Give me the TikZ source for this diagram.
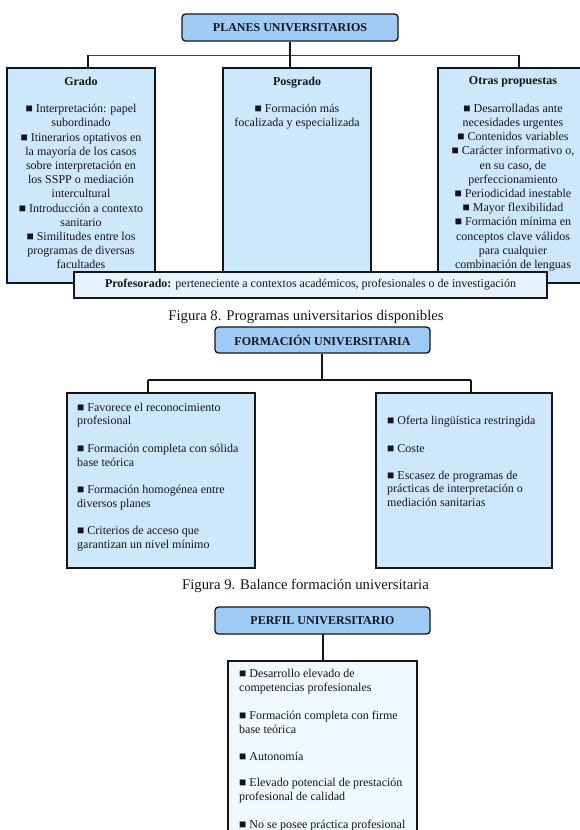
\documentclass[tikz,border=0pt]{standalone}
\usepackage{fontspec}
\setmainfont{Liberation Serif}
\definecolor{titlefill}{RGB}{158,204,245}
\definecolor{boxfill}{RGB}{205,232,251}
\definecolor{proffill}{RGB}{230,243,252}
\definecolor{perfill}{RGB}{241,248,254}
\definecolor{ink}{RGB}{20,20,30}
\newcommand{\sq}{■}
\begin{document}
\begin{tikzpicture}[x=1pt,y=-1pt,
  titlebox/.style={draw=ink, line width=1.3pt, rounded corners=3.5pt, fill=titlefill,
    font=\fontsize{12}{13}\selectfont\bfseries, text=ink, inner sep=0pt},
  cbox/.style={draw=ink, line width=1.8pt, fill=boxfill, inner sep=0pt},
  link/.style={line width=1.5pt, draw=ink},
  hlink/.style={line width=1pt, draw=black!75},
  body/.style={font=\fontsize{12}{14.2}\selectfont, text=ink, inner sep=0pt, align=center},
  lbody/.style={font=\fontsize{12}{13.7}\selectfont, text=ink, inner sep=0pt, align=left},
  figcap/.style={font=\fontsize{14.7}{16}\selectfont, text=ink, inner sep=0pt}
]
\useasboundingbox (0,0) rectangle (580,830);
\clip (0,0) rectangle (580,830);
\fill[white] (0,0) rectangle (580,830);

% ---------- Figura 8 ----------
\node[titlebox, minimum width=216pt, minimum height=27pt] (planes) at (290,27.5) {PLANES UNIVERSITARIOS};
\node[cbox, minimum width=148pt, minimum height=215pt] (grado) at (81,175.5) {};
\node[cbox, minimum width=148pt, minimum height=217pt] (posgrado) at (297,176.5) {};
\node[cbox, minimum width=152pt, minimum height=215pt] (otras) at (514,175.5) {};

\coordinate (hubL) at (88,55);
\coordinate (hubR) at (519,55);
\draw[hlink] (hubL) -- (hubR);
\draw[link] (planes.south) -- (planes.south |- posgrado.north);
\draw[link] (hubL) -- (hubL |- grado.north);
\draw[link] (hubR) -- (hubR |- otras.north);

\node[body, anchor=north] (gradotxt) at (81,76.5) {\textbf{Grado}\\[13.5pt]
\sq\ Interpretación: papel\\ subordinado\\
\sq\ Itinerarios optativos en\\ la mayoría de los casos\\ sobre interpretación en\\ los SSPP o mediación\\ intercultural\\
\sq\ Introducción a contexto\\ sanitario\\
\sq\ Similitudes entre los\\ programas de diversas\\ facultades};
\node[body, anchor=north] (posgradotxt) at (297,76.5) {\textbf{Posgrado}\\[13.5pt]
\sq\ Formación más\\ focalizada y especializada};
\node[body, anchor=north] (otrastxt) at (513,76.5) {\textbf{Otras propuestas}\\[13.5pt]
\sq\ Desarrolladas ante\\ necesidades urgentes\\
\sq\ Contenidos variables\\
\sq\ Carácter informativo o,\\ en su caso, de\\ perfeccionamiento\\
\sq\ Periodicidad inestable\\
\sq\ Mayor flexibilidad\\
\sq\ Formación mínima en\\ conceptos clave válidos\\ para cualquier\\ combinación de lenguas};

\node[cbox, fill=proffill, minimum width=473pt, minimum height=26pt, font=\fontsize{12}{13}\selectfont, text=ink] (prof) at (310.5,285)
  {\textbf{Profesorado:} perteneciente a contextos académicos, profesionales o de investigación};

\node[figcap] (cap8) at (306,317) {Figura 8. Programas universitarios disponibles};

% ---------- Figura 9 ----------
\node[titlebox, minimum width=215pt, minimum height=26pt] (form) at (322.5,340) {FORMACIÓN UNIVERSITARIA};
\node[cbox, minimum width=188pt, minimum height=175pt] (pros) at (161,480.5) {};
\node[cbox, minimum width=176pt, minimum height=175pt] (cons) at (464,480.5) {};
\coordinate (hub2) at (322,380);
\coordinate (hub2L) at (148,380);
\coordinate (hub2R) at (471,380);
\draw[link] (form.south -| hub2) -- (hub2);
\draw[link] (hub2L) -- (hub2R);
\draw[link] (hub2L) -- (hub2L |- pros.north);
\draw[link] (hub2R) -- (hub2R |- cons.north);

\node[lbody, anchor=north west] (prostxt) at (77,402.5) {\sq\ Favorece el reconocimiento\\ profesional\\[13.9pt]
\sq\ Formación completa con sólida\\ base teórica\\[13.9pt]
\sq\ Formación homogénea entre\\ diversos planes\\[13.9pt]
\sq\ Criterios de acceso que\\ garantizan un nivel mínimo};
\node[lbody, anchor=north west] (constxt) at (387,415.5) {\sq\ Oferta lingüística restringida\\[14.5pt]
\sq\ Coste\\[13pt]
\sq\ Escasez de programas de\\ prácticas de interpretación o\\ mediación sanitarias};

\node[figcap] (cap9) at (305.5,586) {Figura 9. Balance formación universitaria};

% ---------- Perfil ----------
\node[titlebox, minimum width=215pt, minimum height=27pt] (perfil) at (322.5,620.5) {PERFIL UNIVERSITARIO};
\node[cbox, fill=perfill, minimum width=189pt, minimum height=240pt] (perfbox) at (322.5,781) {};
\coordinate (pl) at (323,634);
\draw[link] (pl) -- (pl |- perfbox.north);

\node[lbody, anchor=north west, font=\fontsize{12}{14}\selectfont] (perftxt) at (239,669) {\sq\ Desarrollo elevado de\\ competencias profesionales\\[13.5pt]
\sq\ Formación completa con firme\\ base teórica\\[13pt]
\sq\ Autonomía\\[12pt]
\sq\ Elevado potencial de prestación\\ profesional de calidad\\[14pt]
\sq\ No se posee práctica profesional};
\end{tikzpicture}
\end{document}
